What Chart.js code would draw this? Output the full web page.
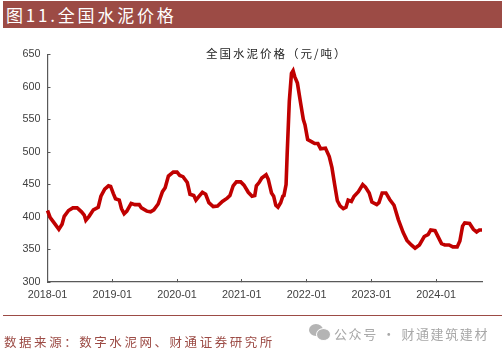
<!DOCTYPE html>
<html lang="zh-CN">
<head>
<meta charset="UTF-8">
<title>全国水泥价格</title>
<style>
  html, body { margin: 0; padding: 0; background: #fff; }
  #page { position: relative; width: 502px; height: 355px; overflow: hidden; font-family: "Noto Sans CJK SC", sans-serif; }
  #myChart { position: absolute; left: 0; top: 0; }
  .abs { position: absolute; white-space: nowrap; }
  #banner { left: 3px; top: 1px; width: 499px; height: 27px; background: #9c4b45; color: #fff; font-size: 17px; line-height: 27px; letter-spacing: 2.8px; text-indent: 3px; }
  #chartTitle { left: 206px; top: 45px; font-size: 11.5px; line-height: 16px; letter-spacing: 2px; color: #222; }
  #rule { left: 3px; top: 315px; width: 499px; height: 1px; background: #9c4b45; }
  #source { left: 4px; top: 333px; font-size: 12.5px; line-height: 18px; letter-spacing: 2.55px; color: #9c4b45; }
  #mark { left: 334px; top: 325px; font-size: 13px; line-height: 18px; letter-spacing: 1.6px; color: #a8a8a8; }
  .bub { position: absolute; border-radius: 50%; background: #b4b4b4; }
</style>
</head>
<body>
<div id="page">
  <canvas id="myChart" width="502" height="355"></canvas>
  <div class="abs" id="banner">图11.全国水泥价格</div>
  <div class="abs" id="chartTitle">全国水泥价格（元/吨）</div>
  <div class="abs" id="rule"></div>
  <div class="abs" id="source">数据来源：数字水泥网、财通证券研究所</div>
  <div class="bub" style="left:309px;top:324px;width:14px;height:12px"></div>
  <div class="bub" style="left:317px;top:329px;width:13px;height:11px;border:1px solid #fff;margin:-1px"></div>
  <div class="abs" id="mark">公众号 · 财通建筑建材</div>
</div>

<script src="https://cdn.jsdelivr.net/npm/chart.js"></script>
<script>
// months since 2018-01
const months = [0,0.5,1.4,2.1,2.7,3.1,3.9,4.7,5.5,6.3,6.8,7.1,7.7,8.5,9.4,9.9,10.6,11.3,11.7,12.2,12.6,13.3,13.7,14.2,14.7,15.5,16.2,17,17.4,18.4,19.1,19.7,20.5,21.3,21.8,22.4,
  23.3,24,24.5,25.1,25.9,26.4,27.1,27.5,28.1,28.7,29.3,29.9,30.7,31.5,32.4,33.3,33.8,34.4,35,35.8,36.4,37.2,37.9,38.4,38.7,39.2,39.7,40.5,40.9,41.5,41.9,42.3,42.7,43.2,43.6,43.8,44.2,44.4,44.8,45.2,45.5,45.8,46.3,46.9,47.4,47.7,48.2,48.9,49.5,50.1,50.6,51.5,52.2,52.7,53.2,53.7,
  54.2,54.8,55.3,55.7,56.3,56.8,57.6,58.4,58.9,59.6,60.1,61,61.4,62,62.7,63.4,64.2,65,65.9,66.6,67.4,68.1,68.9,69.8,70.5,71,71.8,72.4,73,73.6,74.4,75.1,75.9,76.4,76.9,77.3,78.2,78.9,79.5,80,80.5];
const prices = [410,399,389,381,389,401,410,414,414,408,403,395,401,411,415,432,443,448,447,436,428,426,413,405,409,421,419,419,414,409,408,411,420,439,445,463,
  469,469,464,462,453,435,433,426,432,438,435,422,416,417,424,429,433,448,454,454,449,438,432,433,448,453,460,465,458,437,432,418,415,422,432,433,450,496,578,621,625,616,606,575,550,542,519,516,513,513,505,506,493,476,450,425,
  417,413,415,426,424,432,439,450,446,437,423,419,422,437,437,427,418,396,376,364,357,352,357,370,373,380,379,369,359,357,357,354,354,363,386,391,390,381,377,380,380];
const xTickLabels = ["2018-01","2019-01","2020-01","2021-01","2022-01","2023-01","2024-01"];

const points = [];
for (let i = 0; i < months.length; i++) {
  points.push({ x: months[i], y: prices[i] });
}

const tickFont = { family: "'Liberation Sans', Arial, sans-serif", size: 10.8 };
const axisColor = "#595959";

const ctx = document.getElementById("myChart");
new Chart(ctx, {
  type: "line",
  data: {
    datasets: [{
      label: "全国水泥价格",
      data: points,
      borderColor: "#c00000",
      borderWidth: 3.6,
      pointRadius: 0,
      tension: 0,
      clip: false
    }]
  },
  options: {
    responsive: false,
    animation: false,
    layout: { padding: { left: 0, right: 20, top: 54.5, bottom: 0 } },
    plugins: { legend: { display: false }, tooltip: { enabled: false } },
    scales: {
      x: {
        type: "linear",
        min: 0,
        max: 80.5,
        afterFit: (scale) => { scale.height = 73; },
        border: { color: axisColor, width: 1.2 },
        grid: { drawOnChartArea: false, tickLength: -3, tickColor: axisColor, tickWidth: 1 },
        ticks: {
          stepSize: 12,
          includeBounds: false,
          maxRotation: 0,
          autoSkip: false,
          padding: 10,
          color: "#404040",
          font: tickFont,
          callback: (v) => xTickLabels[v / 12]
        }
      },
      y: {
        min: 300,
        max: 650,
        afterFit: (scale) => { scale.width = 47.5; },
        border: { color: axisColor, width: 1.2 },
        grid: { drawOnChartArea: false, tickLength: -3, tickColor: axisColor, tickWidth: 1 },
        ticks: { stepSize: 50, padding: 10, color: "#404040", font: tickFont }
      }
    }
  }
});
</script>
</body>
</html>
